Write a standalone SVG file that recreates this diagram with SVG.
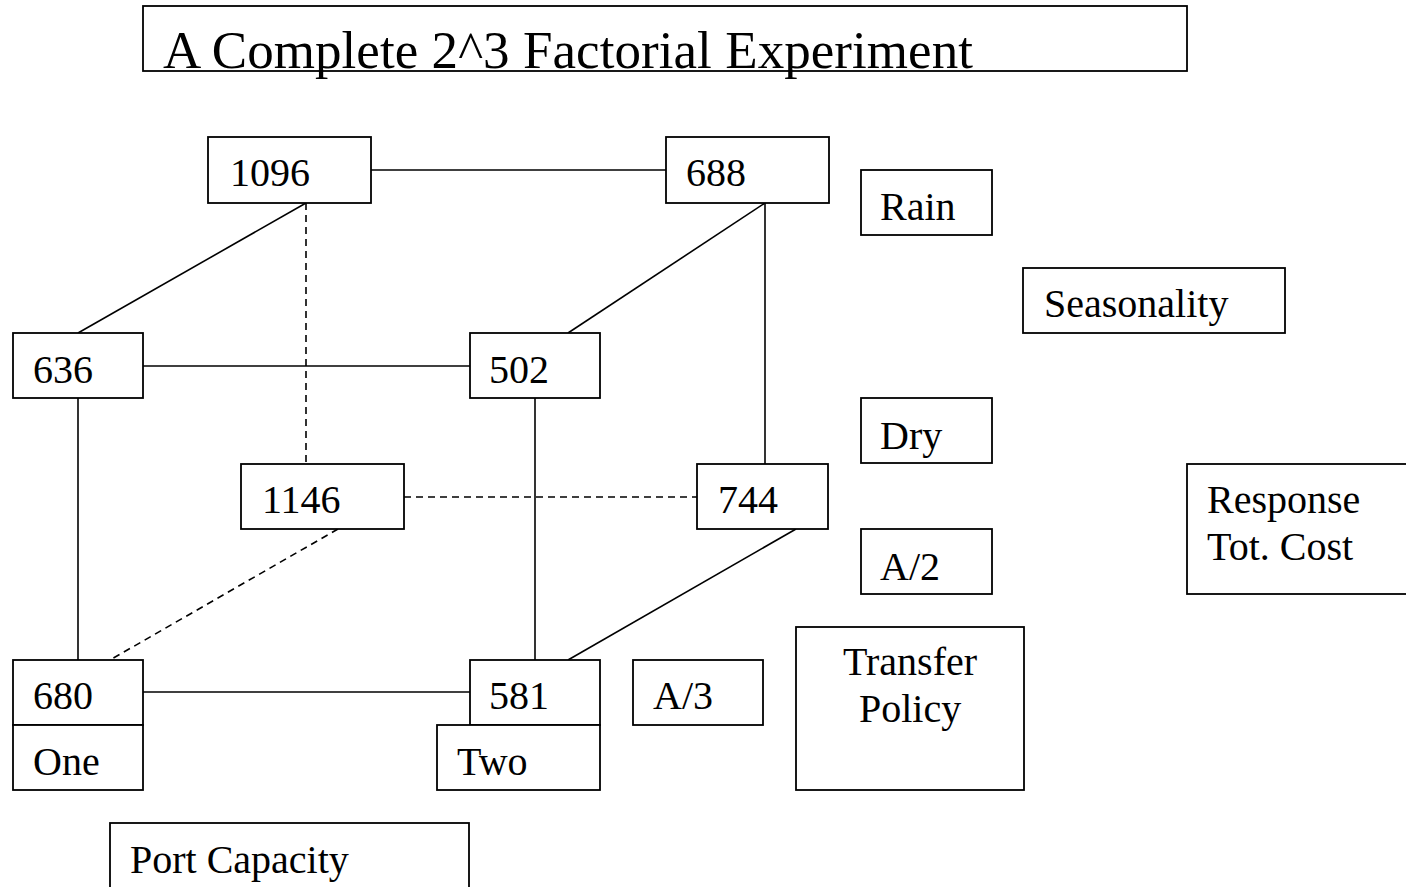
<svg xmlns="http://www.w3.org/2000/svg" width="1406" height="887" viewBox="0 0 1406 887">
<style>
.box{fill:#fff;stroke:#000;stroke-width:1.8}
.t{font-family:"Liberation Serif","Times New Roman",serif;font-size:40px;fill:#000}
.title{font-family:"Liberation Serif","Times New Roman",serif;font-size:53px;fill:#000}
.ln{stroke:#000;stroke-width:1.6;fill:none}
.dash{stroke:#000;stroke-width:1.6;fill:none;stroke-dasharray:7 5}
</style>
<rect width="1406" height="887" fill="#fff"/>
<g id="connectors">
<line class="ln" x1="371" y1="170" x2="666" y2="170"/>
<line class="ln" x1="306" y1="203" x2="78" y2="333"/>
<line class="dash" x1="306" y1="203" x2="306" y2="464"/>
<line class="ln" x1="143" y1="366" x2="470" y2="366"/>
<line class="ln" x1="765" y1="203" x2="568" y2="333"/>
<line class="ln" x1="765" y1="203" x2="765" y2="464"/>
<line class="ln" x1="78" y1="398" x2="78" y2="660"/>
<line class="ln" x1="535" y1="398" x2="535" y2="660"/>
<line class="dash" x1="404" y1="497" x2="697" y2="497"/>
<line class="dash" x1="338" y1="529" x2="110" y2="660"/>
<line class="ln" x1="796" y1="529" x2="568" y2="660"/>
<line class="ln" x1="143" y1="692" x2="470" y2="692"/>
</g>
<g id="title"><rect class="box" x="143" y="6" width="1044" height="65"/><text class="title" x="163" y="68" textLength="810">A Complete 2^3 Factorial Experiment</text></g>
<g id="n1096"><rect class="box" x="208" y="137" width="163" height="66"/><text class="t" x="230" y="186">1096</text></g>
<g id="n688"><rect class="box" x="666" y="137" width="163" height="66"/><text class="t" x="686" y="186">688</text></g>
<g id="rain"><rect class="box" x="861" y="170" width="131" height="65"/><text class="t" x="880" y="220">Rain</text></g>
<g id="seasonality"><rect class="box" x="1023" y="268" width="262" height="65"/><text class="t" x="1044" y="317">Seasonality</text></g>
<g id="n636"><rect class="box" x="13" y="333" width="130" height="65"/><text class="t" x="33" y="383">636</text></g>
<g id="n502"><rect class="box" x="470" y="333" width="130" height="65"/><text class="t" x="489" y="383">502</text></g>
<g id="dry"><rect class="box" x="861" y="398" width="131" height="65"/><text class="t" x="880" y="449">Dry</text></g>
<g id="n1146"><rect class="box" x="241" y="464" width="163" height="65"/><text class="t" x="262" y="513">1146</text></g>
<g id="n744"><rect class="box" x="697" y="464" width="131" height="65"/><text class="t" x="718" y="513">744</text></g>
<g id="response"><rect class="box" x="1187" y="464" width="225" height="130"/><text class="t" x="1207" y="513">Response</text><text class="t" x="1207" y="560">Tot. Cost</text></g>
<g id="a2"><rect class="box" x="861" y="529" width="131" height="65"/><text class="t" x="880" y="580">A/2</text></g>
<g id="transfer"><rect class="box" x="796" y="627" width="228" height="163"/><text class="t" x="843" y="675">Transfer</text><text class="t" x="859" y="722">Policy</text></g>
<g id="n680"><rect class="box" x="13" y="660" width="130" height="65"/><text class="t" x="33" y="709">680</text></g>
<g id="n581"><rect class="box" x="470" y="660" width="130" height="65"/><text class="t" x="489" y="709">581</text></g>
<g id="a3"><rect class="box" x="633" y="660" width="130" height="65"/><text class="t" x="653" y="709">A/3</text></g>
<g id="one"><rect class="box" x="13" y="725" width="130" height="65"/><text class="t" x="33" y="775">One</text></g>
<g id="two"><rect class="box" x="437" y="725" width="163" height="65"/><text class="t" x="457" y="775">Two</text></g>
<g id="port"><rect class="box" x="110" y="823" width="359" height="80"/><text class="t" x="130" y="873">Port Capacity</text></g>
</svg>
